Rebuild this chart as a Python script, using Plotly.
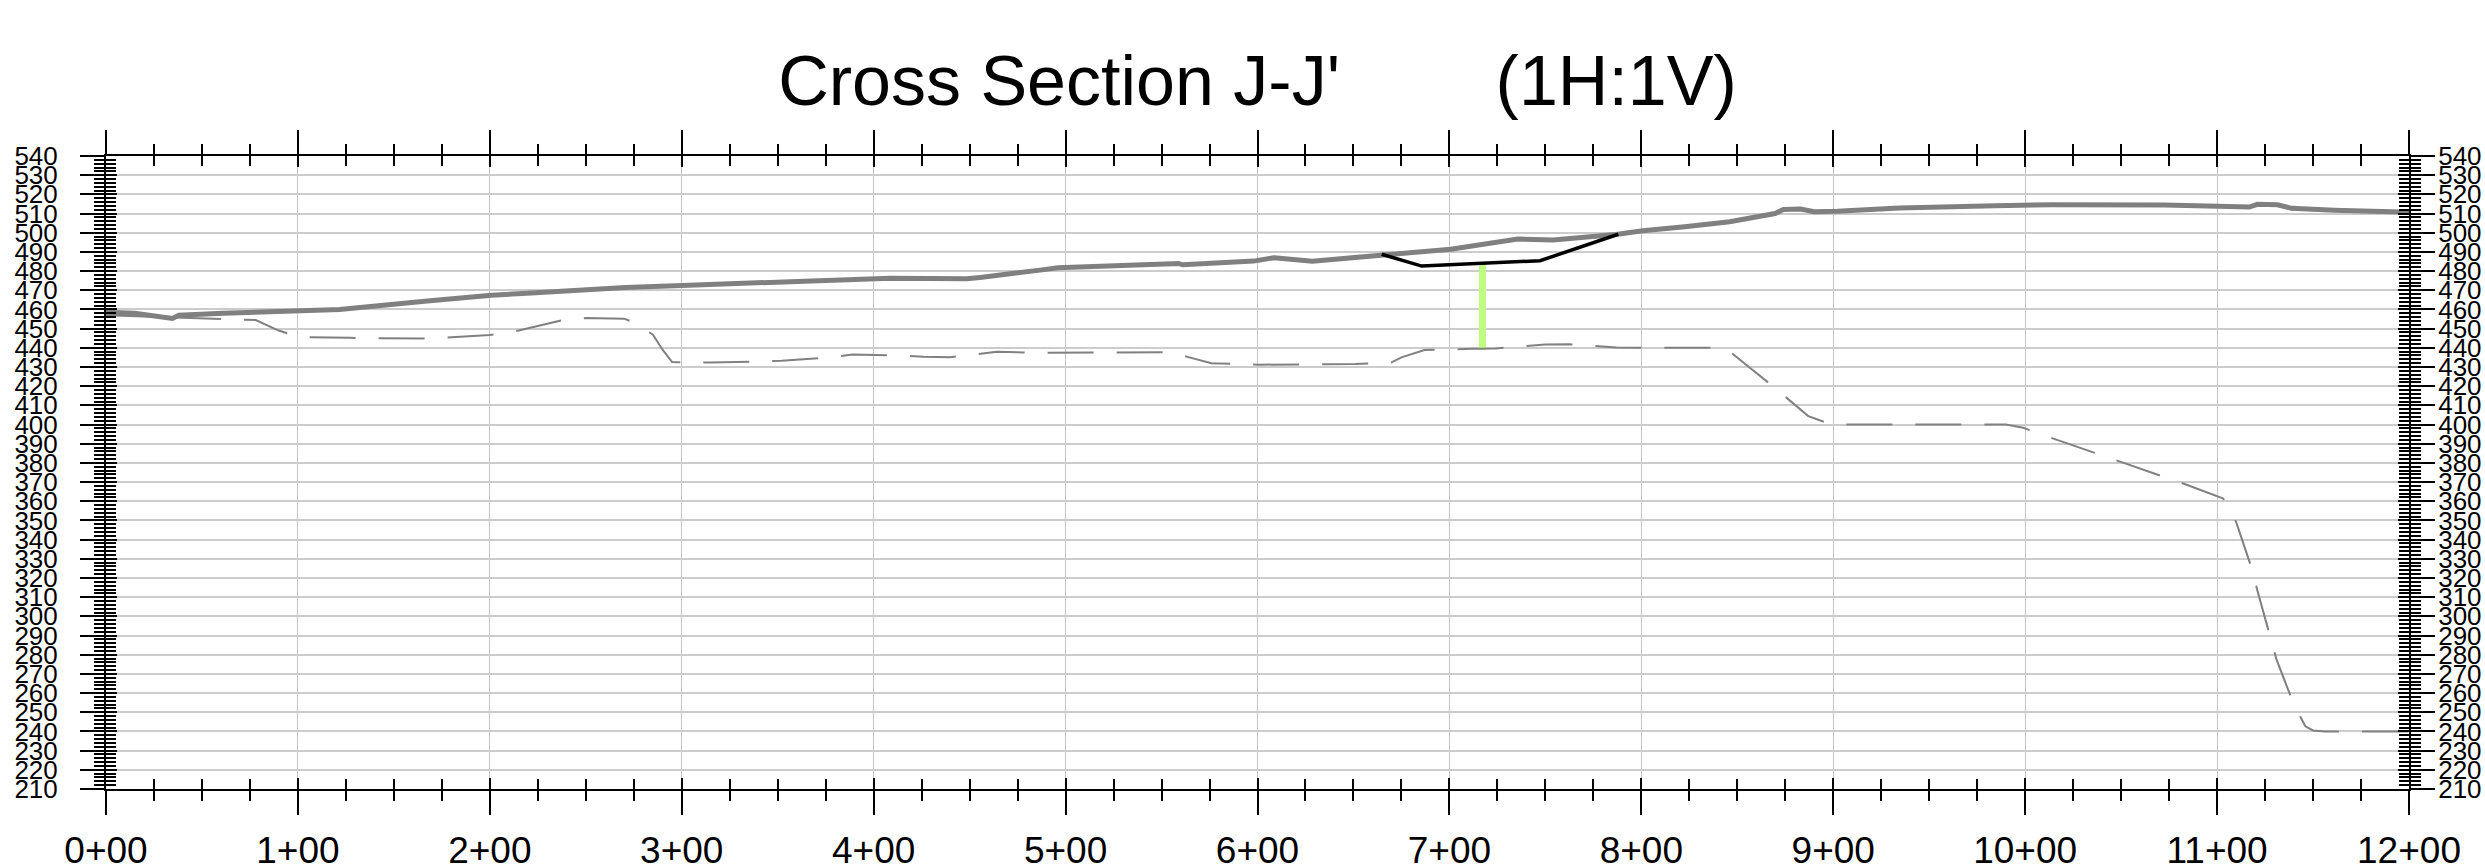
import plotly.graph_objects as go

# ---------------- data ----------------
ground_sta = [0, 15, 34.6, 38, 61, 98.5, 121.7, 166, 200.8, 224, 270.6, 300, 400, 408.6,
              448.5, 455.5, 486.7, 496, 558.8, 561, 598, 608.8, 628.6, 642.6, 664.7,
              700.7, 735.6, 754, 786.7, 800.7, 822.6, 846, 869.7, 874, 883, 890, 902,
              934.4, 984.4, 1013.8, 1072.6, 1110.9, 1116.8, 1121, 1131.5, 1138.8, 1161,
              1196, 1200]
ground_elev = [458.5, 458, 455.3, 457, 458, 459.1, 460, 464.3, 467.4, 468.7, 471.5, 472.5,
               475.5, 476.3, 476, 476.7, 480.5, 481.7, 484, 483.3, 485.2, 487, 485.2, 486.4,
               488.8, 491.4, 496.7, 496.2, 499.1, 501, 503.1, 505.7, 510, 512.1, 512.4, 511,
               511.2, 512.9, 514.1, 514.6, 514.4, 513.9, 513.4, 514.8, 514.6, 512.7, 511.7,
               510.8, 510.7]

base_sta = [0, 20, 40, 60, 78, 90, 101, 127, 150, 165, 180, 200, 214, 238, 250, 270, 276,
            285, 290, 295, 302, 315, 339, 352, 377, 389, 414, 426, 440, 452, 464, 487, 502,
            526, 554, 563, 576, 601, 639, 651, 663, 669, 675, 687, 712, 724, 750, 762, 787,
            800, 837, 846, 858, 868, 887, 899, 990, 999, 1010, 1034, 1046, 1070, 1082, 1103,
            1104, 1110, 1118, 1121, 1128, 1131, 1140, 1146, 1150, 1156, 1200]
base_elev = [457, 456.5, 455.7, 455, 454.5, 449, 445.6, 445.2, 444.8, 444.8, 445.5, 446.7,
             448.8, 454.5, 455.5, 455.2, 452.9, 446.8, 439, 432.6, 432.3, 432.3, 432.8, 433.3,
             435, 436.5, 436, 435.4, 435.1, 436.5, 437.9, 437.4, 437.4, 437.4, 437.7, 435.4,
             432, 431.2, 431.2, 431.5, 432.2, 432, 435, 438.8, 439.5, 439.7, 441.7, 441.9,
             440.2, 440, 440, 438.1, 428.4, 420.4, 404.4, 400, 400, 398.3, 394.3, 385.9,
             381.9, 373.6, 369.4, 361.5, 360.4, 349, 325.2, 313.5, 289.2, 277.4, 254, 242.7,
             240.5, 240, 240]

cut_sta = [664.7, 685.6, 747.2, 788]
cut_elev = [488.8, 482.6, 485.4, 499.2]

bar_sta = [717.2]
bar_bottom = [439]
bar_top = [484]

station_vals = list(range(0, 1201, 100))
station_text = ["0+00", "1+00", "2+00", "3+00", "4+00", "5+00", "6+00", "7+00",
                "8+00", "9+00", "10+00", "11+00", "12+00"]

title_text = "Cross Section J-J'" + "\u00a0" * 8 + "(1H:1V)"

# ---------------- figure ----------------
FONT = "Liberation Sans, Arial, sans-serif"
fig = go.Figure()

fig.add_trace(go.Bar(
    x=bar_sta, y=[t - b for t, b in zip(bar_top, bar_bottom)], base=bar_bottom,
    width=4, marker=dict(color="rgb(190,255,130)", line=dict(width=0)),
    showlegend=False, hoverinfo="skip"))

fig.add_trace(go.Scatter(
    x=ground_sta, y=ground_elev, mode="lines",
    line=dict(color="#808080", width=5), showlegend=False))

fig.add_trace(go.Scatter(
    x=cut_sta, y=cut_elev, mode="lines",
    line=dict(color="#000000", width=3.5), showlegend=False))

fig.add_trace(go.Scatter(
    x=base_sta, y=base_elev, mode="lines", xaxis="x2", yaxis="y2",
    line=dict(color="#808080", width=2, dash="46px,23px"), showlegend=False))

common_x = dict(range=[0, 1200], showline=True, linecolor="black", linewidth=2,
                zeroline=False, tickcolor="black", tickwidth=2)
common_y = dict(range=[210, 540], showline=True, linecolor="black", linewidth=2,
                zeroline=False, tickcolor="black", tickwidth=2)

fig.update_layout(
    width=2485, height=864,
    margin=dict(l=106, r=76, t=156, b=75, autoexpand=False),
    paper_bgcolor="white", plot_bgcolor="white",
    font=dict(family=FONT, color="black"),
    bargap=0,
    title=dict(text=title_text, font=dict(family=FONT, size=70, color="black"),
               x=0.5, xref="paper", xanchor="center",
               y=1 - 80 / 864, yref="container", yanchor="middle"),
    xaxis=dict(**common_x, side="bottom", tickmode="array", tickvals=station_vals,
               ticktext=station_text, ticks="outside", ticklen=24, mirror="allticks",
               tickfont=dict(size=37, family=FONT), ticklabelstandoff=4,
               showgrid=True, gridcolor="#c4c4c4", gridwidth=1,
               minor=dict(dtick=25, ticks="outside", ticklen=10, tickcolor="black",
                          tickwidth=2, showgrid=False)),
    xaxis2=dict(**common_x, overlaying="x", side="bottom", dtick=100, ticks="inside",
                ticklen=11, mirror="allticks", showticklabels=False, showgrid=False,
                minor=dict(dtick=25, ticks="inside", ticklen=10, tickcolor="black",
                           tickwidth=2, showgrid=False)),
    yaxis=dict(**common_y, side="left", dtick=10, ticks="outside", ticklen=24,
               mirror="allticks", tickfont=dict(size=26, family=FONT),
               ticklabelstandoff=17,
               showgrid=True, gridcolor="#cccccc", gridwidth=1.5,
               minor=dict(dtick=2, ticks="outside", ticklen=10, tickcolor="black",
                          tickwidth=2, showgrid=False)),
    yaxis2=dict(**common_y, overlaying="y", side="right", dtick=10, ticks="inside",
                ticklen=11, mirror="allticks", tickfont=dict(size=26, family=FONT),
                ticklabelstandoff=22, showgrid=False,
                minor=dict(dtick=2, ticks="inside", ticklen=10, tickcolor="black",
                           tickwidth=2, showgrid=False)),
)

fig.write_html("out.html", config={"displayModeBar": False},
               post_script="document.body.style.margin='0';")
